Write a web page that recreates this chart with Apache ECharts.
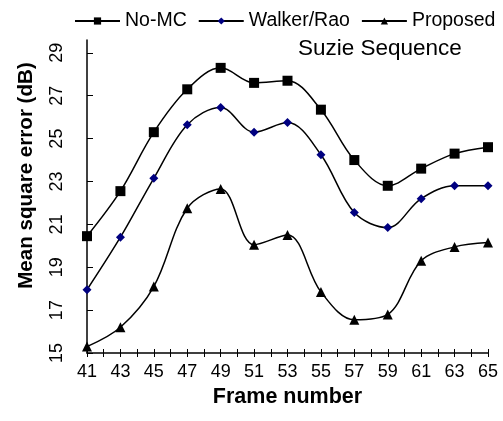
<!DOCTYPE html>
<html>
<head>
<meta charset="utf-8">
<script src="https://cdn.jsdelivr.net/npm/echarts@6/dist/echarts.min.js"></script>
<style>
	html, body { margin: 0; padding: 0; background: #fff; }
	#chart { width: 503px; height: 421px; }
</style>
</head>
<body>
<div id="chart"></div>
<script>
	let frames = [41, 43, 45, 47, 49, 51, 53, 55, 57, 59, 61, 63, 65]
	let noMC = [20.45, 22.55, 25.3, 27.3, 28.3, 27.6, 27.7, 26.35, 24.0, 22.8, 23.6, 24.3, 24.6]
	let walkerRao = [17.95, 20.4, 23.15, 25.65, 26.45, 25.3, 25.75, 24.25, 21.55, 20.85, 22.2, 22.8, 22.8]
	let proposed = [15.3, 16.2, 18.1, 21.75, 22.65, 20.05, 20.5, 17.85, 16.55, 16.8, 19.3, 19.95, 20.15]
	let yTicks = [15, 17, 19, 21, 23, 25, 27, 29]

	let font = "Liberation Sans, Arial, sans-serif"

	let pairs = function (values) {
		return frames.map(function (f, i) {
			return [f, values[i]]
		})
	}

	let chart = echarts.init(document.getElementById("chart"))

	let lineSeries = function (name, values, symbol, size, color) {
		return {
			name: name,
			type: "line",
			xAxisIndex: 0,
			data: pairs(values),
			smooth: 0.35,
			symbol: symbol,
			symbolSize: size,
			itemStyle: {
				color: color
			},
			lineStyle: {
				color: "#000",
				width: 1.5
			},
			emphasis: { disabled: true }
		}
	}

	let option = {
		animation: false,
		backgroundColor: "#fff",
		title: {
			text: "Suzie Sequence",
			left: 293,
			top: 32,
			textStyle: {
				fontFamily: font,
				fontSize: 22.5,
				fontWeight: "normal",
				color: "#000"
			}
		},
		legend: {
			top: 6,
			left: 69,
			itemWidth: 45,
			itemHeight: 9,
			itemGap: 11,
			textStyle: {
				fontFamily: font,
				fontSize: 19.5,
				color: "#000"
			},
			data: ["No-MC", "Walker/Rao", "Proposed"]
		},
		grid: {
			left: 87,
			right: 15,
			top: 40,
			bottom: 68,
			containLabel: false
		},
		xAxis: [
			{
				type: "value",
				min: 41,
				max: 65,
				interval: 1,
				name: "Frame number",
				nameLocation: "middle",
				nameGap: 30,
				nameTextStyle: {
					fontFamily: font,
					fontSize: 21.5,
					fontWeight: "bold",
					color: "#000"
				},
				splitLine: { show: false },
				axisLine: { lineStyle: { color: "#000", width: 1.5 } },
				axisTick: { inside: false, length: 4, lineStyle: { color: "#000", width: 1 } },
				axisLabel: {
					fontFamily: font,
					fontSize: 18,
					color: "#000",
					margin: 10,
					formatter: function (v) {
						return v % 2 === 1 ? String(v) : ""
					}
				}
			},
			{
				type: "value",
				min: 41,
				max: 65,
				interval: 1,
				position: "bottom",
				splitLine: { show: false },
				axisLine: { show: false },
				axisTick: { inside: true, length: 4, lineStyle: { color: "#000", width: 1 } },
				axisLabel: { show: false }
			}
		],
		yAxis: {
			type: "value",
			min: 15,
			max: 29.6,
			interval: 2,
			name: "Mean square error (dB)",
			nameLocation: "middle",
			nameGap: 50,
			nameTextStyle: {
				fontFamily: font,
				fontSize: 20.6,
				fontWeight: "bold",
				color: "#000",
				padding: [0, 0, 0, 42]
			},
			splitLine: { show: false },
			axisLine: { show: true, lineStyle: { color: "#000", width: 1.5 } },
			axisTick: {
				show: true,
				inside: true,
				length: 6,
				customValues: yTicks,
				lineStyle: { color: "#000", width: 1 }
			},
			axisLabel: {
				fontFamily: font,
				fontSize: 18,
				color: "#000",
				rotate: 90,
				margin: 21,
				customValues: yTicks
			}
		},
		series: [
			lineSeries("No-MC", noMC, "rect", 10, "#000"),
			lineSeries("Walker/Rao", walkerRao, "diamond", 9, "#000080"),
			lineSeries("Proposed", proposed, "triangle", 10, "#000")
		]
	}
	chart.setOption(option)
</script>
</body>
</html>
